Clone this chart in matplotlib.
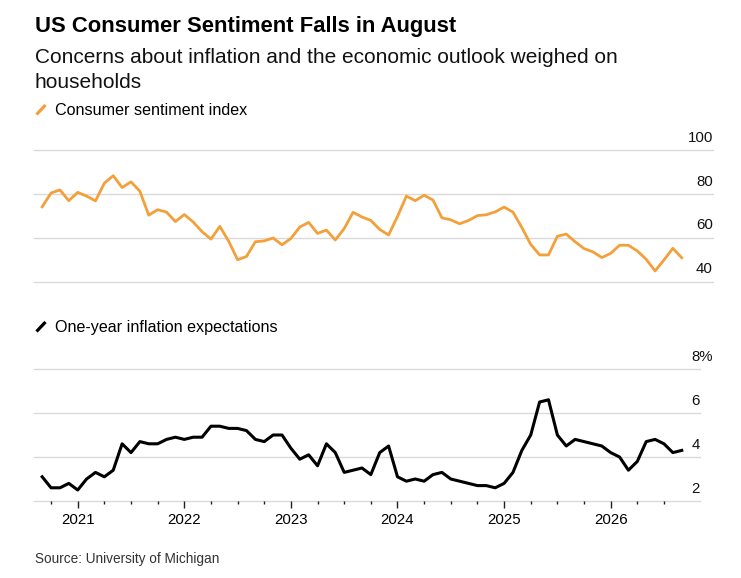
import numpy as np
import pandas as pd
import matplotlib
matplotlib.use("Agg")
import matplotlib.pyplot as plt
from matplotlib.lines import Line2D

plt.rcParams['font.family'] = ['Liberation Sans', 'DejaVu Sans']

# monthly readings, Aug 2020 .. Aug 2026 (plotted at month end)
months = pd.date_range("2020-08-31", "2026-08-31", freq="ME")

sentiment = [
    74.1, 80.4, 81.8, 76.9, 80.7,
    79.0, 76.8, 84.9, 88.3, 82.9, 85.5, 81.2, 70.3, 72.8, 71.7, 67.4, 70.6,
    67.2, 62.8, 59.4, 65.2, 58.4, 50.0, 51.5, 58.2, 58.6, 59.9, 56.8, 59.7,
    64.9, 67.0, 62.0, 63.5, 59.0, 64.2, 71.6, 69.5, 67.9, 63.8, 61.3, 69.7,
    79.0, 76.9, 79.4, 77.2, 69.1, 68.2, 66.4, 67.9, 70.1, 70.5, 71.8, 74.0,
    71.7, 64.7, 57.0, 52.2, 52.2, 60.7, 61.7, 58.2, 55.1, 53.6, 51.0, 52.9,
    56.6, 56.6, 54.0, 50.2, 44.9, 49.9, 55.2, 50.9,
]

inflation_exp = [
    3.1, 2.6, 2.6, 2.8, 2.5,
    3.0, 3.3, 3.1, 3.4, 4.6, 4.2, 4.7, 4.6, 4.6, 4.8, 4.9, 4.8,
    4.9, 4.9, 5.4, 5.4, 5.3, 5.3, 5.2, 4.8, 4.7, 5.0, 5.0, 4.4,
    3.9, 4.1, 3.6, 4.6, 4.2, 3.3, 3.4, 3.5, 3.2, 4.2, 4.5, 3.1,
    2.9, 3.0, 2.9, 3.2, 3.3, 3.0, 2.9, 2.8, 2.7, 2.7, 2.6, 2.8,
    3.3, 4.3, 5.0, 6.5, 6.6, 5.0, 4.5, 4.8, 4.7, 4.6, 4.5, 4.2,
    4.0, 3.4, 3.8, 4.7, 4.8, 4.6, 4.2, 4.3,
]

year_ticks = [2021, 2022, 2023, 2024, 2025, 2026]
sent_ticks = [40, 60, 80, 100]
infl_ticks = [2, 4, 6, 8]
infl_labels = ["2", "4", "6", "8%"]

ORANGE = "#F4A03A"
GRID = "#DADADA"

# decimal-year positions
x = months.year + months.month / 12.0
quarters = np.arange(2020.75, 2026.51, 0.25)

W, H = 741, 578
fig = plt.figure(figsize=(W / 100, H / 100), dpi=100)


def fx(px):
    return px / W


def fy(py):
    return 1 - py / H


def style_axis(ax, ticks):
    for s in ax.spines.values():
        s.set_visible(False)
    ax.set_yticks(ticks)
    ax.tick_params(axis="y", left=False, right=False, labelleft=False, labelright=False)
    # gridlines drawn by hand so the edge ones are not clipped
    for t in ticks:
        ax.axhline(t, color=GRID, lw=1.0, clip_on=False, zorder=0)


# top panel: consumer sentiment
ax1 = fig.add_axes([fx(34), fy(281.7), fx(713) - fx(34), (281.7 - 150) / H])
ax1.plot(x, sentiment, color=ORANGE, lw=2.0, clip_on=False, zorder=3)
ax1.set_ylim(40, 100)
ax1.set_xlim(2020.59, 2026.96)
style_axis(ax1, sent_ticks)
ax1.set_xticks([])
for v in sent_ticks:
    ax1.annotate(str(v), xy=(1.0, v), xycoords=ax1.get_yaxis_transform(),
                 xytext=(0, 6), textcoords="offset points",
                 ha="right", va="baseline", fontsize=10.8, color="#111111")

# bottom panel: inflation expectations
ax2 = fig.add_axes([fx(34), fy(501), fx(700) - fx(34), (501 - 369) / H])
ax2.plot(x, inflation_exp, color="black", lw=2.2, clip_on=False, zorder=3)
ax2.set_ylim(2, 8)
ax2.set_xlim(2020.59, 2026.838)
style_axis(ax2, infl_ticks)
for v, lab in zip(infl_ticks, infl_labels):
    ax2.annotate(lab, xy=(1.0, v), xycoords=ax2.get_yaxis_transform(),
                 xytext=(-6, 6), textcoords="offset points",
                 ha="left", va="baseline", fontsize=10.8, color="#111111")

ax2.set_xticks(year_ticks)
ax2.set_xticklabels([str(y) for y in year_ticks])
ax2.set_xticks([q for q in quarters if q not in year_ticks], minor=True)
ax2.tick_params(axis="x", which="major", length=5, width=1.0, color="#222222",
                pad=3.5, labelsize=10.8)
ax2.tick_params(axis="x", which="minor", length=2.5, width=1.0, color="#222222")

# header texts
fig.text(fx(35), fy(32), "US Consumer Sentiment Falls in August",
         fontsize=15.8, fontweight="bold", va="baseline", color="black")
fig.text(fx(35), fy(63), "Concerns about inflation and the economic outlook weighed on",
         fontsize=15, va="baseline", color="#111111")
fig.text(fx(35), fy(88), "households", fontsize=15, va="baseline", color="#111111")

# legend keys
fig.add_artist(Line2D([fx(36.5), fx(45.5)], [fy(114.5), fy(105)], color=ORANGE, lw=2.3,
                      solid_capstyle="butt"))
fig.text(fx(55), fy(115), "Consumer sentiment index", fontsize=11.6, va="baseline")
fig.add_artist(Line2D([fx(36.5), fx(45.5)], [fy(331.5), fy(322)], color="black", lw=2.3,
                      solid_capstyle="butt"))
fig.text(fx(55), fy(332), "One-year inflation expectations", fontsize=11.6, va="baseline")

fig.text(fx(35), fy(563), "Source: University of Michigan", fontsize=9.8,
         va="baseline", color="#333333")

fig.savefig("out.png", dpi=100)
